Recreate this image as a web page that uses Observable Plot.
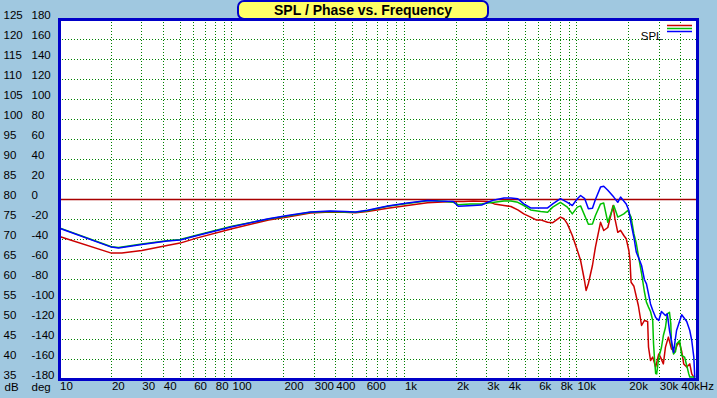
<!DOCTYPE html>
<html>
<head>
<meta charset="utf-8">
<script src="https://cdn.jsdelivr.net/npm/d3@7"></script>
<script src="https://cdn.jsdelivr.net/npm/@observablehq/plot@0.6"></script>
<style>
  html, body { margin: 0; padding: 0; background: #a0c8e0; }
  #wrap { position: relative; width: 717px; height: 398px; overflow: hidden; }
  #title {
    position: absolute; left: 237px; top: 0px; width: 248px; height: 16px;
    background: #ffff66; border: 2px solid #0000c8; border-radius: 7px;
    font: bold 14px "Liberation Sans", Arial, sans-serif; color: #000;
    text-align: center; line-height: 17px; box-sizing: content-box;
  }
</style>
</head>
<body>
<div id="wrap"></div>
<script>
// ---- axis / tick data ----
const dbTicks = [125,120,115,110,105,100,95,90,85,80,75,70,65,60,55,50,45,40,35];
const degTicks = [180,160,140,120,100,80,60,40,20,0,-20,-40,-60,-80,-100,-120,-140,-160,-180];
const xTickValues = [10,20,30,40,60,80,100,200,300,400,600,1000,2000,3000,4000,6000,8000,10000,20000,30000,40000];
const xTickLabels = ["10","20","30","40","60","80","100","200","300","400","600","1k","2k","3k","4k","6k","8k","10k","20k","30k","40kHz"];
const gridFreqs = [20,30,40,50,60,70,80,90,100,200,300,400,500,600,700,800,900,1000,2000,3000,4000,5000,6000,7000,8000,9000,10000,20000,30000,40000];
const gridDB = [120,115,110,105,100,95,90,85,75,70,65,60,55,50,45,40];
const refDB = [80];

// ---- series (Hz, dB) ----
const blueFreq = [10,20,22,30,42,50,63,100,163,210,285,370,450,520,610,800,1040,1360,1550,1920,2050,2200,2500,2800,3040,3320,3780,4140,4540,4920,5390,6160,6760,7240,8020,8800,9400,10060,10500,11100,11650,12300,12800,13700,14300,15100,16350,17250,17900,19300,20000,20600,21400,22100,22700,23700,24600,25300,26000,26700,27500,28600,29800,30900,32600,33400,34400,35300,36300,37800,40500,43300,45100,46300,47600,48200];
const blueDB   = [72.8,68.1,67.9,68.75,69.6,69.9,71.0,73.2,75.2,76.0,76.9,77.1,77.0,76.9,77.3,78.4,79.1,79.75,79.6,79.5,78.3,78.4,78.5,78.6,79.3,79.9,80.4,80.4,80.2,78.9,77.9,77.9,77.9,78.9,80.2,79.3,78.5,80.2,81.0,80.2,77.7,77.8,80.0,83.1,83.3,82.3,80.6,79.3,80.6,78.9,77.25,74.0,70.5,66.8,65.6,63.5,60.0,58.9,56.4,53.9,52.3,50.5,49.75,52.0,51.0,51.4,47.25,44.75,41.8,47.25,51.2,49.5,47.25,44.75,40.6,35.6];

const greenFreq = [10,20,22,30,42,50,63,100,163,210,285,370,450,520,610,800,1040,1360,1550,1920,2050,2400,2800,3040,3320,3780,4140,4540,4920,5390,6160,6760,7240,8020,8800,9400,10060,10500,11650,12300,12800,13700,14300,15100,16350,17250,18700,19700,20600,21400,22100,22700,23700,24600,25300,26000,26700,27500,27800,28200,28600,29000,29800,30900,31700,32600,33400,34400,35000,35300,36300,37300,37800,39400,40500,42100,43300,44500,45100,48200];
const greenDB   = [72.9,68.2,68.0,68.9,69.7,70.0,71.1,73.3,75.1,75.9,76.8,77.0,76.9,76.8,77.2,78.3,79.0,79.7,79.7,79.3,78.7,78.9,78.9,79.1,79.3,79.6,79.6,79.3,78.5,77.4,77.0,76.8,78.1,79.3,78.1,76.4,78.1,78.4,73.8,73.9,76.0,78.9,79.1,74.3,78.5,75.6,76.4,77.25,75.6,71.4,69.0,66.0,61.5,57.0,54.3,53.1,52.0,49.75,44.0,39.75,36.5,36.4,40.5,43.0,46.0,48.0,51.4,51.8,49.0,44.0,41.4,42.0,43.9,44.75,41.0,40.6,38.5,36.4,35.6,35.6];

const redFreq = [10,20,23,30,42,50,63,100,163,210,285,370,450,520,610,800,1040,1360,1550,1920,2200,2500,3040,3320,3780,4140,4540,4920,5390,5800,6160,6760,7240,8020,8400,8800,9400,10060,10500,11060,11300,11650,12300,12800,13700,14300,15100,15700,16200,16600,17250,17900,18700,19300,20000,20300,20600,21400,22700,23700,24600,25700,26000,26700,27500,28600,29800,30500,31700,32600,33900,35300,36800,38300,39400,40500,41600,43300,45100,46300,47600];
const redDB   = [70.75,66.6,66.6,67.25,68.5,69.1,70.4,72.7,74.9,75.6,76.6,76.9,76.8,76.7,77.0,77.8,78.5,79.2,79.3,79.5,79.5,79.6,79.5,78.9,78.5,78.25,77.4,76.4,75.6,74.9,74.9,74.3,74.2,75.6,75.2,73.9,71.0,67.25,64.75,59.75,57.25,59.0,63.5,68.1,74.3,72.25,73.0,76.0,78.5,75.2,71.8,72.3,71.0,70.2,67.25,64.75,59.3,58.3,53.5,48.5,49.75,49.5,43.1,39.75,40.6,38.1,41.4,40.6,38.9,43.1,45.6,42.7,41.8,43.9,44.0,42.0,38.9,38.1,38.9,36.4,35.6];

const toRows = (f, v) => f.map((d, i) => ({f: d, v: v[i]}));
const red = toRows(redFreq, redDB);
const green = toRows(greenFreq, greenDB);
const blue = toRows(blueFreq, blueDB);

const FONT = '"Liberation Sans", Arial, sans-serif';
const plot = Plot.plot({
  width: 717, height: 398,
  marginLeft: 59, marginRight: 20, marginTop: 19, marginBottom: 19,
  style: {background: "transparent", fontFamily: FONT, fontSize: "11.5px", color: "#000", overflow: "visible"},
  x: {type: "log", domain: [10, 50000], axis: null},
  y: {domain: [35, 125], axis: null},
  marks: [
    Plot.frame({fill: "white", stroke: null}),
    Plot.ruleX(gridFreqs, {x: d => d, stroke: "#008000", strokeWidth: 1, strokeDasharray: "1,2", shapeRendering: "crispEdges"}),
    Plot.ruleY(gridDB, {y: d => d, stroke: "#008000", strokeWidth: 1, strokeDasharray: "1,2", shapeRendering: "crispEdges"}),
    Plot.ruleY(refDB, {y: d => d, stroke: "#a80000", strokeWidth: 1.4}),
    Plot.line(red, {x: "f", y: "v", stroke: "#cc0000", strokeWidth: 1.5, clip: true}),
    Plot.line(green, {x: "f", y: "v", stroke: "#00c000", strokeWidth: 1.5, clip: true}),
    Plot.line(blue, {x: "f", y: "v", stroke: "#0000ff", strokeWidth: 1.5, clip: true}),
    Plot.frame({stroke: "#0000c8", strokeWidth: 3}),
    // left labels
    Plot.text(dbTicks, {y: d => d, frameAnchor: "left", dx: -56, dy: -4, textAnchor: "start", text: d => String(d)}),
    Plot.text(degTicks, {y: (d, i) => dbTicks[i], frameAnchor: "left", dx: -28, dy: -4, textAnchor: "start", text: d => String(d)}),
    // bottom labels
    Plot.text(xTickValues, {x: d => d, frameAnchor: "bottom", dy: 10.5, dx: 0.5, textAnchor: "start", text: (d, i) => xTickLabels[i]}),
    Plot.text(["dB"], {frameAnchor: "bottom-left", dx: -55, dy: 11, textAnchor: "start", text: d => d}),
    Plot.text(["deg"], {frameAnchor: "bottom-left", dx: -28, dy: 11, textAnchor: "start", text: d => d}),
    // legend label
    Plot.text(["SPL"], {frameAnchor: "top-right", dx: -35, dy: 12.5, textAnchor: "end", text: d => d})
  ]
});

// legend line swatches
const svg = d3.select(plot);
const legendColors = ["#cc0000", "#00c000", "#0000ff"];
legendColors.forEach((c, i) => {
  svg.append("line").attr("x1", 667).attr("x2", 692)
    .attr("y1", 25.5 + i * 3).attr("y2", 25.5 + i * 3)
    .attr("stroke", c).attr("stroke-width", 1.5);
});

const wrap = document.getElementById("wrap");
wrap.appendChild(plot);
const title = document.createElement("div");
title.id = "title";
title.textContent = "SPL / Phase vs. Frequency";
wrap.appendChild(title);
</script>
</body>
</html>
